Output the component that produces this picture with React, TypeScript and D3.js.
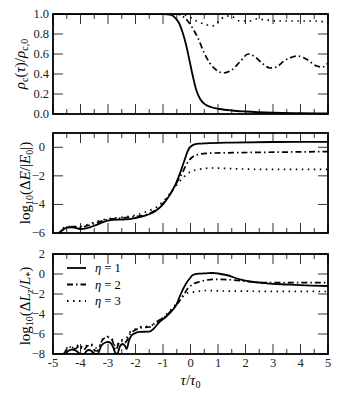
import * as d3 from "d3";

type Pt = [number, number];

// tau / tau0 axis
const xTicks = [-5, -4, -3, -2, -1, 0, 1, 2, 3, 4, 5];

// top panel: rho_c(tau)/rho_c,0
const rhoTicks = [0, 0.2, 0.4, 0.6, 0.8, 1.0];
const rhoEta1: Pt[] = [[-5, 1], [-1, 1], [-0.7, 0.99], [-0.52, 0.95], [-0.4, 0.9], [-0.28, 0.81], [-0.15, 0.68], [-0.04, 0.54], [0.1, 0.36], [0.21, 0.24], [0.35, 0.15], [0.57, 0.09], [0.8, 0.065], [1.06, 0.05], [1.5, 0.035], [2, 0.025], [3, 0.013], [4, 0.008], [5, 0.005]];
const rhoEta2: Pt[] = [[-5, 1], [-0.5, 1], [-0.3, 0.98], [-0.1, 0.93], [0.05, 0.87], [0.27, 0.76], [0.5, 0.61], [0.7, 0.51], [0.94, 0.44], [1.2, 0.41], [1.5, 0.44], [1.79, 0.52], [2.1, 0.6], [2.35, 0.57], [2.64, 0.5], [2.9, 0.46], [3.13, 0.47], [3.4, 0.53], [3.61, 0.56], [3.9, 0.58], [4.2, 0.55], [4.59, 0.48], [4.8, 0.47], [5, 0.51]];
const rhoEta3: Pt[] = [[-5, 1], [-0.4, 1], [-0.1, 0.98], [0.21, 0.93], [0.5, 0.9], [0.8, 0.88], [1.0, 0.92], [1.3, 0.98], [1.55, 0.97], [1.79, 0.93], [2.15, 0.93], [2.4, 0.95], [2.76, 0.94], [3.13, 0.93], [4, 0.93], [4.6, 0.93], [5, 0.91]];

// middle panel: log10(dE/|E0|)
const dETicks = [-6, -4, -2, 0];
const dEEta1: Pt[] = [[-4.78, -6], [-4.65, -5.8], [-4.5, -5.62], [-4.3, -5.6], [-4.0, -5.72], [-3.8, -5.68], [-3.44, -5.45], [-3.2, -5.25], [-2.96, -5.11], [-2.6, -5.06], [-2.35, -5.05], [-2.0, -4.95], [-1.62, -4.77], [-1.4, -4.6], [-1.25, -4.42], [-1.05, -4.1], [-0.89, -3.72], [-0.65, -3.0], [-0.5, -2.4], [-0.34, -1.6], [-0.2, -0.8], [-0.1, -0.25], [0.08, 0.15], [0.3, 0.25], [0.57, 0.28], [1.5, 0.33], [3, 0.37], [5, 0.38]];
const dEEta2: Pt[] = [[-4.78, -6], [-4.5, -5.6], [-4.3, -5.55], [-4, -5.6], [-3.6, -5.4], [-3, -5.05], [-2.5, -4.95], [-2, -4.85], [-1.6, -4.7], [-1.25, -4.38], [-0.9, -3.7], [-0.65, -3.0], [-0.45, -2.3], [-0.3, -1.8], [-0.16, -1.24], [0.08, -0.66], [0.3, -0.5], [0.57, -0.42], [1.55, -0.38], [2.76, -0.35], [5, -0.3]];
const dEEta3: Pt[] = [[-4.78, -6], [-4.5, -5.55], [-4.3, -5.55], [-4, -5.55], [-3.6, -5.3], [-3, -5.0], [-2.5, -4.9], [-2, -4.75], [-1.6, -4.5], [-1.25, -4.2], [-0.9, -3.6], [-0.65, -3.0], [-0.4, -2.4], [-0.2, -2.0], [0, -1.7], [0.3, -1.55], [0.8, -1.45], [1.5, -1.5], [3, -1.55], [5, -1.55]];

// bottom panel: log10(dLz/L*)
const dLTicks = [-8, -6, -4, -2, 0, 2];
const dLEta1: Pt[] = [[-4.54, -8], [-4.45, -7.7], [-4.3, -7.55], [-4.15, -7.7], [-3.99, -8], [-3.87, -8], [-3.78, -7.7], [-3.69, -7.6], [-3.6, -7.7], [-3.5, -8], [-3.38, -8], [-3.25, -7.2], [-3.1, -6.85], [-3.0, -6.8], [-2.9, -6.9], [-2.8, -7.4], [-2.71, -8], [-2.65, -7.9], [-2.56, -7.2], [-2.47, -7.0], [-2.38, -7.2], [-2.32, -7.5], [-2.24, -6.7], [-2.16, -6.2], [-2.0, -5.9], [-1.86, -5.78], [-1.5, -5.77], [-1.35, -5.5], [-1.13, -4.8], [-0.9, -4.3], [-0.65, -3.6], [-0.5, -3.0], [-0.4, -2.3], [-0.16, -0.95], [0, -0.35], [0.08, -0.1], [0.3, 0.03], [0.57, 0.07], [0.8, 0.1], [1.0, 0.05], [1.3, -0.1], [1.79, -0.53], [2.3, -0.8], [2.76, -0.93], [3.5, -1.05], [4.0, -1.12], [5, -1.2]];
const dLEta2: Pt[] = [[-4.6, -8], [-4.5, -7.5], [-4.35, -7.3], [-4.2, -7.5], [-4.05, -7.2], [-3.9, -7.6], [-3.75, -7.2], [-3.62, -7.1], [-3.5, -7.6], [-3.4, -7.7], [-3.2, -6.6], [-3.02, -6.3], [-2.85, -6.6], [-2.72, -7.6], [-2.6, -6.9], [-2.52, -6.7], [-2.4, -6.9], [-2.3, -6.6], [-2.2, -6.0], [-2.0, -5.6], [-1.86, -5.4], [-1.5, -5.3], [-1.25, -4.8], [-0.9, -4.2], [-0.65, -3.5], [-0.4, -2.7], [-0.25, -2.1], [-0.1, -1.45], [0.1, -1.0], [0.33, -0.77], [0.6, -0.6], [0.94, -0.53], [1.55, -0.6], [2.15, -0.77], [2.76, -0.87], [5, -0.87]];
const dLEta3: Pt[] = [[-4.6, -8], [-4.5, -7.4], [-4.4, -7.3], [-4.2, -7.4], [-4.05, -7.0], [-3.9, -7.4], [-3.75, -7.1], [-3.62, -7.0], [-3.5, -7.4], [-3.35, -7.4], [-3.2, -6.5], [-3.02, -6.25], [-2.85, -6.5], [-2.72, -7.3], [-2.6, -6.8], [-2.5, -6.6], [-2.35, -6.5], [-2.23, -5.9], [-2.0, -5.5], [-1.86, -5.3], [-1.5, -5.2], [-1.25, -4.9], [-0.9, -4.1], [-0.65, -3.4], [-0.4, -2.6], [-0.16, -1.93], [0.21, -1.77], [0.57, -1.65], [1.2, -1.7], [2, -1.72], [5, -1.75]];

const etaLabels = ["1", "2", "3"];

const W = 342, H = 399;
const X0 = 53, X1 = 328;
const FONT = "Liberation Serif, DejaVu Serif, serif";
const DASH = ["none", "6,3,1.5,3", "1.5,4.5"];

const x = d3.scaleLinear().domain([-5, 5]).range([X0, X1]);
const minorTicks = d3.range(-4.5, 5, 1);
const tickStyle = { fontFamily: FONT, fontSize: 12.5 } as const;
const labStyle = { fontFamily: FONT, fontSize: 15 } as const;
const sub = { fontSize: 10 } as const;

function Panel({ id, y, yTicks, series, fmt, labelGap }: {
  id: string; y: d3.ScaleLinear<number, number>; yTicks: number[]; series: Pt[][];
  fmt: (v: number) => string; labelGap: number;
}) {
  const [yb, yt] = y.range();
  const line = d3.line<Pt>().x(d => x(d[0])).y(d => y(d[1])).curve(d3.curveMonotoneX);
  return (
    <g>
      <clipPath id={id}><rect x={X0} y={yt} width={X1 - X0} height={yb - yt} /></clipPath>
      <g clipPath={`url(#${id})`}>
        {series.map((s, i) => (
          <path key={i} d={line(s) || ""} fill="none" stroke="#000"
            strokeWidth={i === 0 ? 1.8 : 1.7} strokeDasharray={DASH[i]} />
        ))}
      </g>
      {xTicks.map(t => (
        <g key={t}>
          <line x1={x(t)} x2={x(t)} y1={yb} y2={yb - 10} stroke="#000" strokeWidth={0.8} />
          <line x1={x(t)} x2={x(t)} y1={yt} y2={yt + 10} stroke="#000" strokeWidth={0.8} />
        </g>
      ))}
      {minorTicks.map(t => (
        <g key={t}>
          <line x1={x(t)} x2={x(t)} y1={yb} y2={yb - 5} stroke="#000" strokeWidth={0.8} />
          <line x1={x(t)} x2={x(t)} y1={yt} y2={yt + 5} stroke="#000" strokeWidth={0.8} />
        </g>
      ))}
      {yTicks.map(t => (
        <g key={t}>
          <line x1={X0} x2={X0 + 10} y1={y(t)} y2={y(t)} stroke="#000" strokeWidth={0.8} />
          <line x1={X1} x2={X1 - 10} y1={y(t)} y2={y(t)} stroke="#000" strokeWidth={0.8} />
          <text x={X0 - labelGap} y={y(t) + 4} textAnchor="end" style={tickStyle} fill="#222">{fmt(t)}</text>
        </g>
      ))}
      <rect x={X0} y={yt} width={X1 - X0} height={yb - yt} fill="none" stroke="#000" strokeWidth={1.8} />
    </g>
  );
}

export default function App() {
  const yRho = d3.scaleLinear().domain([0, 1]).range([114, 14]);
  const yE = d3.scaleLinear().domain([-6, 1]).range([233, 133]);
  const yL = d3.scaleLinear().domain([-8, 2]).range([354, 254]);

  return (
    <svg width={W} height={H} style={{ position: "absolute", left: 0, top: 0, background: "#fff", fontFamily: FONT }}>
      <Panel id="c1" y={yRho} yTicks={rhoTicks} series={[rhoEta1, rhoEta2, rhoEta3]} fmt={d3.format(".1f")} labelGap={4} />
      <Panel id="c2" y={yE} yTicks={dETicks} series={[dEEta1, dEEta2, dEEta3]} fmt={d3.format("d")} labelGap={8} />
      <Panel id="c3" y={yL} yTicks={dLTicks} series={[dLEta1, dLEta2, dLEta3]} fmt={d3.format("d")} labelGap={8} />

      {xTicks.map(t => (
        <text key={t} x={x(t)} y={367} textAnchor="middle" style={tickStyle} fill="#222">{t}</text>
      ))}
      <text x={x(0)} y={385} textAnchor="middle" style={labStyle}>
        <tspan fontStyle="italic">τ</tspan>/<tspan fontStyle="italic">τ</tspan>
        <tspan dy={3} style={sub}>0</tspan>
      </text>

      <text transform={`translate(25,${yRho(0.5)}) rotate(-90)`} textAnchor="middle" style={labStyle}>
        <tspan fontStyle="italic">ρ</tspan><tspan dy={3} style={sub}>c</tspan>
        <tspan dy={-3}>(</tspan><tspan fontStyle="italic">τ</tspan>)/<tspan fontStyle="italic">ρ</tspan>
        <tspan dy={3} style={sub}>c,0</tspan>
      </text>
      <text transform={`translate(30,${yE(-2.5)}) rotate(-90)`} textAnchor="middle" style={labStyle}>
        log<tspan dy={3} style={sub}>10</tspan><tspan dy={-3}>(Δ</tspan><tspan fontStyle="italic">E</tspan>/|<tspan fontStyle="italic">E</tspan>
        <tspan dy={3} style={sub}>0</tspan><tspan dy={-3}>|)</tspan>
      </text>
      <text transform={`translate(30,${yL(-3.2)}) rotate(-90)`} textAnchor="middle" style={labStyle}>
        log<tspan dy={3} style={sub}>10</tspan><tspan dy={-3}>(Δ</tspan><tspan fontStyle="italic">L</tspan>
        <tspan dy={3} style={sub} fontStyle="italic">z</tspan><tspan dy={-3}>/</tspan><tspan fontStyle="italic">L</tspan>
        <tspan dy={3} style={sub}>*</tspan><tspan dy={-3}>)</tspan>
      </text>

      {etaLabels.map((e, i) => (
        <g key={e}>
          <line x1={67} x2={86} y1={268 + i * 16.5} y2={268 + i * 16.5} stroke="#000"
            strokeWidth={1.8} strokeDasharray={DASH[i]} />
          <text x={95} y={272 + i * 16.5} style={tickStyle}>
            <tspan fontStyle="italic">η</tspan> = {e}
          </text>
        </g>
      ))}
    </svg>
  );
}
